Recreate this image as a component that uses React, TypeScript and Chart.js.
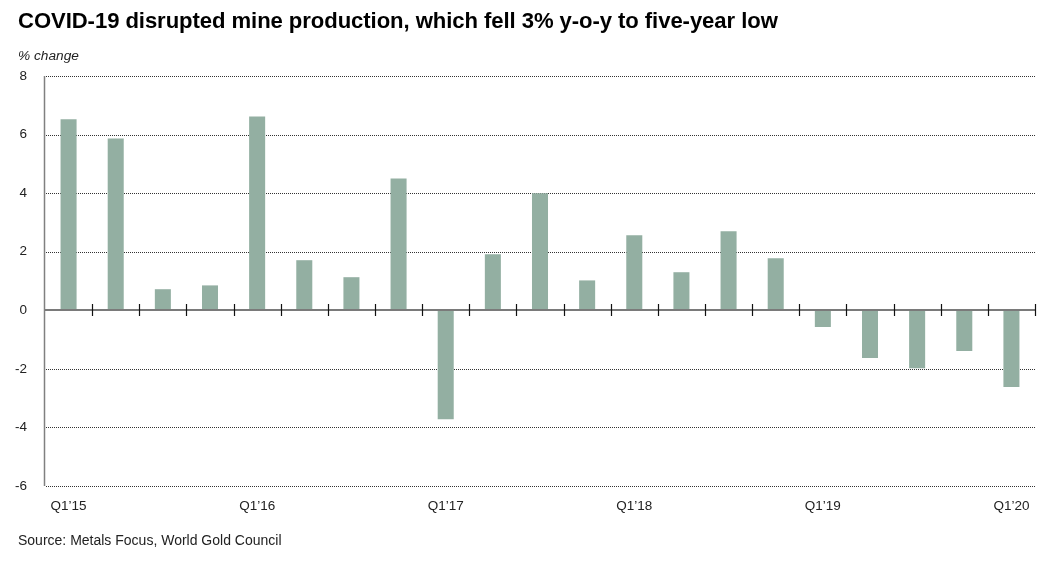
import React, { useEffect, useRef } from "react";
import { Chart, registerables } from "chart.js";

Chart.register(...registerables);

const quarters: string[] = [
  "Q1’15", "Q2’15", "Q3’15", "Q4’15",
  "Q1’16", "Q2’16", "Q3’16", "Q4’16",
  "Q1’17", "Q2’17", "Q3’17", "Q4’17",
  "Q1’18", "Q2’18", "Q3’18", "Q4’18",
  "Q1’19", "Q2’19", "Q3’19", "Q4’19",
  "Q1’20",
];

const changeValues: number[] = [
  6.52, 5.87, 0.72, 0.85,
  6.62, 1.71, 1.13, 4.5,
  -3.72, 1.91, 4.0, 1.02,
  2.56, 1.3, 2.7, 1.78,
  -0.57, -1.63, -1.98, -1.39,
  -2.62,
];

const yTicks: number[] = [-6, -4, -2, 0, 2, 4, 6, 8];

const W = 1057;
const H = 561;
const FONT = "'Liberation Sans', Arial, Helvetica, sans-serif";

const axesPlugin = {
  id: "customAxes",
  beforeDatasetsDraw(chart: any) {
    const { ctx, chartArea, scales } = chart;
    const y = scales.y;
    ctx.save();
    ctx.strokeStyle = "#333";
    ctx.lineWidth = 1;
    ctx.setLineDash([1, 1]);
    yTicks.forEach((v) => {
      if (v === 0) return;
      const py = Math.round(y.getPixelForValue(v)) + 0.5;
      ctx.beginPath();
      ctx.moveTo(chartArea.left + 1, py);
      ctx.lineTo(chartArea.right, py);
      ctx.stroke();
    });
    ctx.restore();
  },
  afterDatasetsDraw(chart: any) {
    const { ctx, chartArea, scales } = chart;
    const y = scales.y;
    const x = scales.x;
    const zero = Math.round(y.getPixelForValue(0));
    ctx.save();
    // y axis line
    ctx.strokeStyle = "#808080";
    ctx.lineWidth = 1.5;
    ctx.beginPath();
    ctx.moveTo(chartArea.left - 0.5, chartArea.top);
    ctx.lineTo(chartArea.left - 0.5, chartArea.bottom);
    ctx.stroke();
    // zero line
    ctx.strokeStyle = "#7a7a7a";
    ctx.lineWidth = 2;
    ctx.beginPath();
    ctx.moveTo(chartArea.left, zero);
    ctx.lineTo(chartArea.right + 1, zero);
    ctx.stroke();
    // tick marks at category boundaries
    ctx.strokeStyle = "#111";
    ctx.lineWidth = 1.2;
    for (let i = 1; i <= quarters.length; i++) {
      const px =
        i < quarters.length
          ? (x.getPixelForValue(i - 1) + x.getPixelForValue(i)) / 2
          : chartArea.right;
      const rx = Math.round(px) + 0.5;
      ctx.beginPath();
      ctx.moveTo(rx, zero - 6);
      ctx.lineTo(rx, zero + 6);
      ctx.stroke();
    }
    ctx.restore();
  },
};

export default function App() {
  const canvasRef = useRef<HTMLCanvasElement | null>(null);

  useEffect(() => {
    const canvas = canvasRef.current;
    if (!canvas) return;
    const chart = new Chart(canvas, {
      type: "bar",
      data: {
        labels: quarters,
        datasets: [
          {
            data: changeValues,
            backgroundColor: "#93afa2",
            borderWidth: 0,
            barPercentage: 0.34,
            categoryPercentage: 1,
          },
        ],
      },
      options: {
        animation: false,
        responsive: false,
        maintainAspectRatio: false,
        layout: { padding: { left: 0, right: 22, top: 76, bottom: 0 } },
        plugins: {
          legend: { display: false },
          tooltip: { enabled: false },
          title: { display: false },
        },
        scales: {
          x: {
            offset: true,
            grid: { display: false, drawTicks: false },
            border: { display: false },
            ticks: {
              autoSkip: false,
              maxRotation: 0,
              padding: 12,
              color: "#222",
              font: { family: FONT, size: 13.5 },
              callback: (_v: any, i: number) => (i % 4 === 0 ? quarters[i] : ""),
            },
            afterFit: (s: any) => {
              s.height = 75;
            },
          },
          y: {
            min: -6,
            max: 8,
            grid: { display: false, drawTicks: false },
            border: { display: false },
            afterBuildTicks: (s: any) => {
              s.ticks = yTicks.map((v) => ({ value: v }));
            },
            ticks: {
              padding: 18,
              color: "#222",
              font: { family: FONT, size: 13.5 },
            },
            afterFit: (s: any) => {
              s.width = 45;
            },
          },
        },
      },
      plugins: [axesPlugin],
    });
    return () => chart.destroy();
  }, []);

  return (
    <div
      style={{
        position: "fixed",
        left: 0,
        top: 0,
        width: W,
        height: H,
        background: "#fff",
        fontFamily: FONT,
        color: "#000",
      }}
    >
      <canvas
        ref={canvasRef}
        width={W}
        height={H}
        style={{ position: "absolute", left: 0, top: 0, width: W, height: H }}
      />
      <div
        style={{
          position: "absolute",
          left: 18,
          top: 8,
          fontSize: 22.1,
          fontWeight: "bold",
          whiteSpace: "nowrap",
          letterSpacing: -0.07,
        }}
      >
        COVID-19 disrupted mine production, which fell 3% y-o-y to five-year low
      </div>
      <div
        style={{
          position: "absolute",
          left: 18,
          top: 48,
          fontSize: 13.7,
          fontStyle: "italic",
          color: "#222",
          whiteSpace: "nowrap",
        }}
      >
        % change
      </div>
      <div
        style={{
          position: "absolute",
          left: 18,
          top: 532,
          fontSize: 14,
          color: "#222",
          whiteSpace: "nowrap",
        }}
      >
        Source: Metals Focus, World Gold Council
      </div>
    </div>
  );
}
